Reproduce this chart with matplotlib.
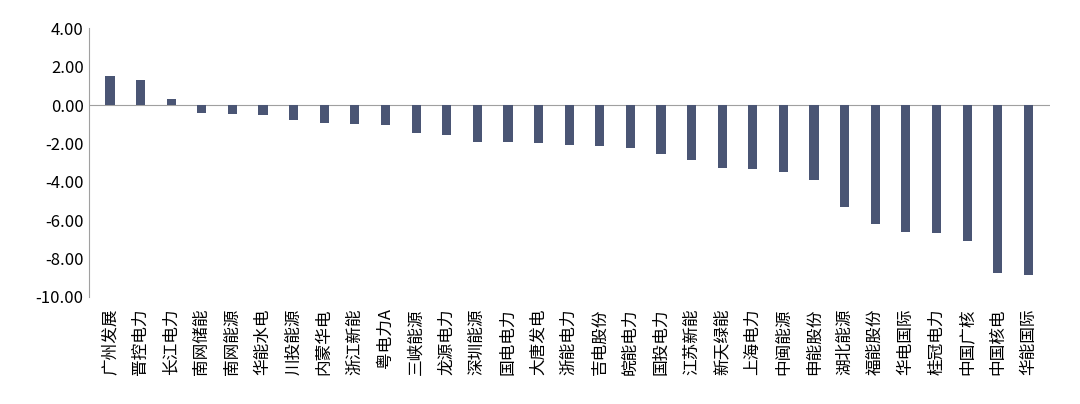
import matplotlib.pyplot as plt

plt.rcParams['font.family'] = ['Noto Sans CJK SC', 'DejaVu Sans']

names = ['广州发展', '晋控电力', '长江电力', '南网储能', '南网能源', '华能水电', '川投能源',
         '内蒙华电', '浙江新能', '粤电力A', '三峡能源', '龙源电力', '深圳能源', '国电电力',
         '大唐发电', '浙能电力', '吉电股份', '皖能电力', '国投电力', '江苏新能', '新天绿能',
         '上海电力', '中闽能源', '申能股份', '湖北能源', '福能股份', '华电国际', '桂冠电力',
         '中国广核', '中国核电', '华能国际']
values = [1.50, 1.28, 0.30, -0.40, -0.45, -0.50, -0.80, -0.95, -0.98, -1.05, -1.45,
          -1.55, -1.90, -1.95, -2.00, -2.10, -2.15, -2.25, -2.55, -2.85, -3.30, -3.35,
          -3.50, -3.90, -5.30, -6.20, -6.60, -6.65, -7.10, -8.75, -8.85]

fig = plt.figure(figsize=(10.8, 4.04), dpi=100)
ax = fig.add_axes([0.082, 0.265, 0.89, 0.665])
x = range(len(names))
ax.bar(x, values, width=0.3, color='#4a5574')
ax.set_ylim(-10, 4)
ax.set_xlim(-0.7, len(names) - 0.3)
ax.set_yticks(range(-10, 5, 2))
ax.set_yticklabels([f'{v:.2f}' for v in range(-10, 5, 2)], fontsize=12)
ax.set_xticks(list(x))
ax.set_xticklabels(names, rotation=90, fontsize=12)
ax.tick_params(axis='x', length=0, pad=8)
ax.tick_params(axis='y', length=0)
for s in ['top', 'right', 'bottom']:
    ax.spines[s].set_visible(False)
ax.spines['left'].set_color('#a0a0a0')
ax.axhline(0, color='#a0a0a0', lw=0.8, zorder=0)
fig.savefig('out.png')
